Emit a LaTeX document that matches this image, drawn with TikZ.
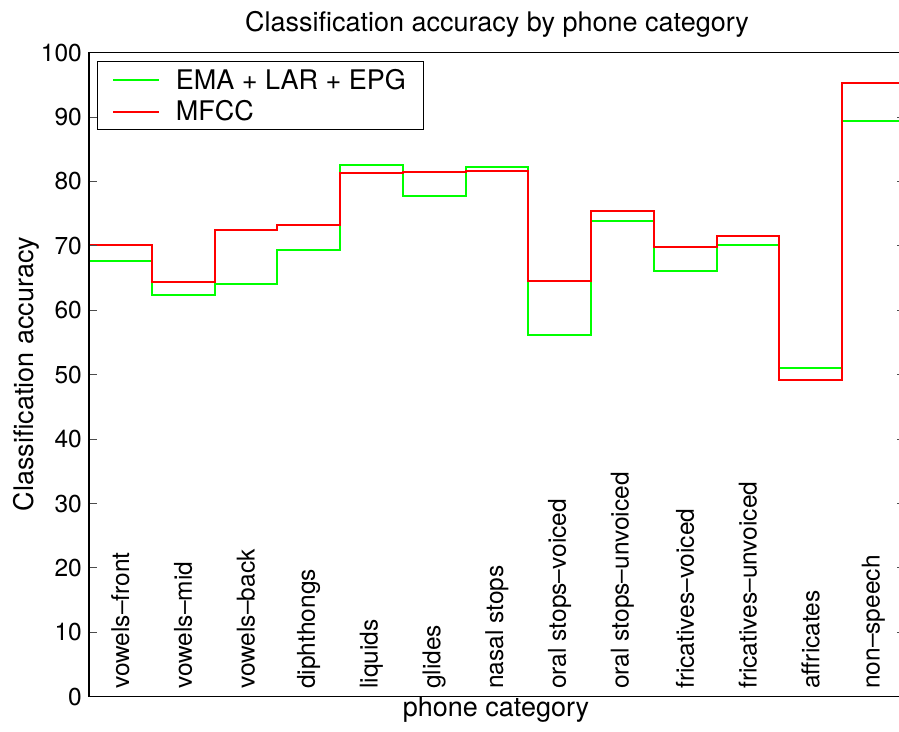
\documentclass[tikz,border=0pt]{standalone}
\usepackage{fontspec}
\setmainfont{TeX Gyre Heros}
\usetikzlibrary{calc}
\def\ticksize{\fontsize{24.5}{29}\selectfont}
\def\labelsize{\fontsize{27}{32}\selectfont}

\begin{document}
\begin{tikzpicture}[x=1pt, y=1pt]
			%%%%% START %%%%%
			\useasboundingbox (0, 0) rectangle (899, 731);
			
			\node[anchor=base] (title) at (497, 699) {\labelsize Classification accuracy by phone category};
			\node[anchor=base] (xlab) at (496, 14.3) {\labelsize phone category};
			\node[anchor=base, rotate=90] (ylab) at (33, 357) {\labelsize Classification accuracy};
			
			\begin{scope}[shift={(89pt, 34.3pt)}, x=62.75pt, y=6.44pt]
			% steps, one per phone category
			\draw[line width=2pt, color={rgb,255:red,0;green,255;blue,0}] plot[const plot] coordinates {
				(0, 67.7) (1, 62.4) (2, 64.1) (3, 69.4) (4, 82.5) (5, 77.7) (6, 82.3)
				(7, 56.1) (8, 73.9) (9, 66.1) (10, 70.1) (11, 51.1) (12, 89.4) (13, 89.4)};
			\draw[line width=2pt, color={rgb,255:red,255;green,0;blue,0}] plot[const plot] coordinates {
				(0, 70.1) (1, 64.4) (2, 72.5) (3, 73.2) (4, 81.3) (5, 81.5) (6, 81.7)
				(7, 64.5) (8, 75.4) (9, 69.8) (10, 71.6) (11, 49.1) (12, 95.3) (13, 95.3)};
			
			\foreach \v in {0, 10, ..., 100} {
				\draw[black!70, line width=1pt] (0, \v) -- ++(8pt, 0);
				\draw[black!70, line width=1pt] (13, \v) -- ++(-8pt, 0);
				\node[anchor=east, inner sep=0pt] (tick\v) at ($(0, \v) + (-7pt, 0)$) {\ticksize \v};
			}
			\draw[line width=1.5pt] (0, 100) -- (0, 0) -- (13, 0) -- (13, 100) -- cycle;
			
			\foreach \c [count=\i from 0] in {vowels--front, vowels--mid, vowels--back, diphthongs, liquids, glides, nasal stops, oral stops--voiced, oral stops--unvoiced, fricatives--voiced, fricatives--unvoiced, affricates, non--speech} {
				\node[anchor=west, rotate=90, inner sep=0pt] (cat\i) at (\i + 0.5, 1.2) {\ticksize \c};
			}
			\end{scope}
			
			% legend
			\draw[line width=1.5pt, fill=white] (97.7, 601.7) rectangle (423.3, 669.3);
			\coordinate (ga) at (113, 651);
			\coordinate (gb) at (159, 651);
			\coordinate (ra) at (113, 618.7);
			\coordinate (rb) at (159, 618.7);
			\draw[line width=2pt, color={rgb,255:red,0;green,255;blue,0}] (ga) -- (gb);
			\draw[line width=2pt, color={rgb,255:red,255;green,0;blue,0}] (ra) -- (rb);
			\node[anchor=base west, inner sep=0pt] (gtext) at (175.7, 641) {\labelsize EMA + LAR + EPG};
			\node[anchor=base west, inner sep=0pt] (rtext) at (175.7, 610.3) {\labelsize MFCC};
			%%%%% END %%%%%
\end{tikzpicture}
\end{document}
